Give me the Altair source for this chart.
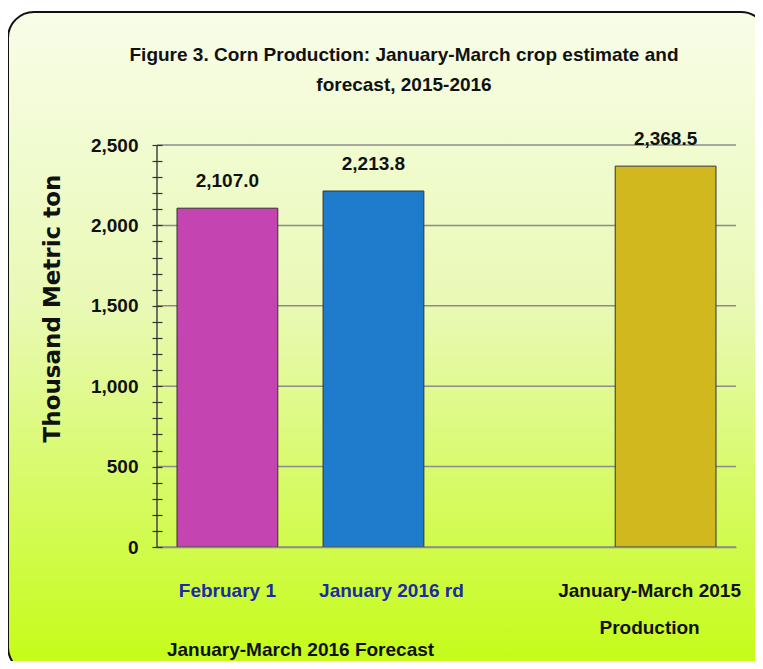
import altair as alt
import pandas as pd

# ---- data ----
categories = ["February 1", "January 2016 rd", " ", "January-March 2015|Production"]
bar_cats = ["February 1", "January 2016 rd", "January-March 2015|Production"]
values = [2107.0, 2213.8, 2368.5]
value_labels = ["2,107.0", "2,213.8", "2,368.5"]
bar_colors = ["#c444b2", "#1f7ccc", "#d0b81e"]
major_ticks = [0, 500, 1000, 1500, 2000, 2500]
minor_ticks = [0, 100, 200, 300, 400, 500, 600, 700, 800, 900, 1000, 1100, 1200,
               1300, 1400, 1500, 1600, 1700, 1800, 1900, 2000, 2100, 2200, 2300,
               2400, 2500]
title_lines = ["Figure 3. Corn Production:  January-March crop  estimate and",
               "forecast, 2015-2016"]
y_title = "Thousand Metric ton"
x_title = "January-March 2016 Forecast"

FONT = "Liberation Sans Narrow, Arial Narrow, Liberation Sans, Arial, sans-serif"
FS = 19
W, H = 579, 402

df = pd.DataFrame({"cat": bar_cats, "value": values, "label": value_labels, "color": bar_colors})
grid_df = pd.DataFrame({"value": major_ticks})
title_df = pd.DataFrame({"t": ["\n".join(title_lines)]})
one = pd.DataFrame({"a": [0]})

yscale = alt.Scale(domain=[0, 2500], nice=False)
xscale = alt.Scale(domain=categories, paddingInner=0.31, paddingOuter=0.137)

y_axis = alt.Axis(
    values=minor_ticks,
    labelExpr="datum.value % 500 === 0 ? format(datum.value, ',') : ''",
    grid=False, domain=False, tickSize=10, offset=-5, tickColor="#333333", tickWidth=1.2,
    labelFont=FONT, labelFontSize=FS, labelFontWeight="bold", labelColor="#111111",
    labelPadding=14, labelOverlap=False,
    titleFont="DejaVu Sans", titleFontSize=23, titleFontWeight="bold", titleColor="#111111",
    titleX=-110, titleY=163, titleAlign="center", titleBaseline="middle", zindex=1,
)

x_axis = alt.Axis(
    labelExpr="split(datum.label, '|')",
    labelAngle=0, labelFont=FONT, labelFontSize=FS, labelFontWeight="bold",
    labelColor={"condition": {"test": "indexof(datum.value, '2015') >= 0", "value": "#111111"},
                "value": "#1c2aa6"},
    labelOffset={"condition": [
        {"test": "indexof(datum.value, '2015') >= 0", "value": -16},
        {"test": "indexof(datum.value, '2016') >= 0", "value": 18}],
        "value": 0},
    labelPadding=34, labelLimit=400, labelOverlap=False, labelLineHeight=37,
    ticks=False, domainColor="#8c8c8c", domainWidth=1.5, grid=False,
    titleFont=FONT, titleFontSize=FS, titleFontWeight="bold", titleColor="#111111",
    titleX=143, titleY=102, titleAlign="center", titleBaseline="middle", zindex=1,
)

frame = alt.Chart(one).mark_rect(
    fill=alt.Gradient(
        gradient="linear", x1=0, y1=0, x2=0, y2=1,
        stops=[alt.GradientStop(offset=0, color="#f8fde8"),
               alt.GradientStop(offset=0.45, color="#e9f9b4"),
               alt.GradientStop(offset=1, color="#c4fc14")],
    ),
    stroke="#111111", strokeWidth=2, cornerRadius=26,
).encode(x=alt.value(-149), x2=alt.value(610), y=alt.value(-133), y2=alt.value(528))

title = alt.Chart(title_df).mark_text(
    font=FONT, fontSize=FS, fontWeight="bold", color="#111111",
    align="center", baseline="middle", lineBreak="\n", lineHeight=30,
).encode(x=alt.value(247), y=alt.value(-90), text="t:N")

grid = alt.Chart(grid_df).mark_rule(color="#8c8c8c", strokeWidth=1.5).encode(
    y=alt.Y("value:Q", scale=yscale, axis=y_axis, title=y_title),
    x=alt.value(0), x2=alt.value(W),
)

yline = alt.Chart(one).mark_rule(color="#444444", strokeWidth=1.5).encode(
    x=alt.value(0), y=alt.value(0), y2=alt.value(H)
)

bars = alt.Chart(df).mark_bar(stroke="#333333", strokeWidth=1).encode(
    x=alt.X("cat:N", scale=xscale, sort=categories, title=x_title, axis=x_axis),
    y=alt.Y("value:Q", scale=yscale, axis=y_axis, title=y_title),
    fill=alt.Fill("color:N", scale=None),
)

labels = alt.Chart(df).mark_text(
    font=FONT, fontSize=FS, fontWeight="bold", color="#111111", baseline="middle", dy=-27
).encode(
    x=alt.X("cat:N", scale=xscale, sort=categories, title=x_title, axis=x_axis),
    y=alt.Y("value:Q", scale=yscale, axis=y_axis, title=y_title),
    text="label:N",
)

chart = alt.layer(frame, title, grid, yline, bars, labels).properties(
    width=W, height=H,
    autosize=alt.AutoSizeParams(type="none"),
    padding={"left": 149, "top": 137, "right": 19, "bottom": 114},
    background="white",
).configure_view(stroke=None)

chart.save("out.html", embed_options={"renderer": "svg", "actions": False})
